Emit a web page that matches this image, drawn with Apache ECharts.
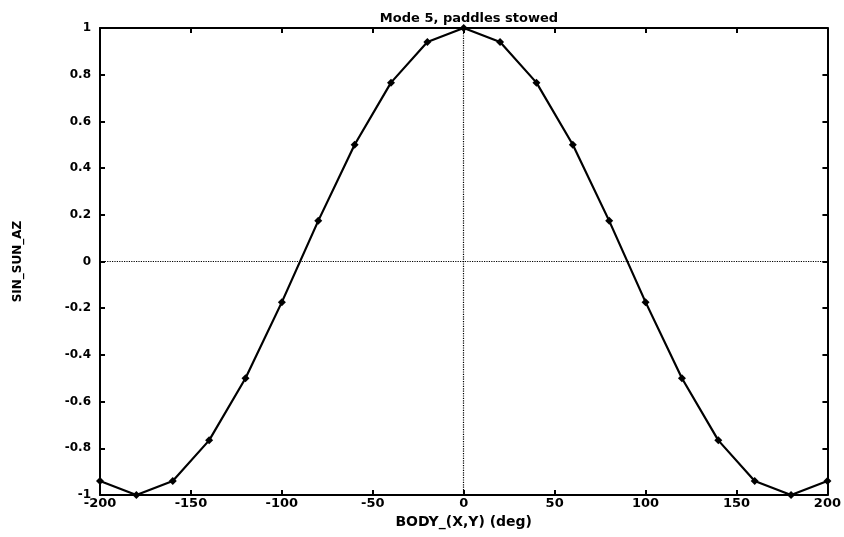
<!DOCTYPE html>
<html><head><meta charset="utf-8">
<script src="https://cdn.jsdelivr.net/npm/echarts@6/dist/echarts.min.js"></script>
<style>html,body{margin:0;padding:0;background:#fff}#c{width:844px;height:537px}</style>
</head><body><div id="c"></div>
<script>
const title = 'Mode 5, paddles stowed';
const xName = 'BODY_(X,Y) (deg)';
const yName = 'SIN_SUN_AZ';
const xDeg = [-200,-180,-160,-140,-120,-100,-80,-60,-40,-20,0,20,40,60,80,100,120,140,160,180,200];
const yVal = [-0.94,-1.0,-0.94,-0.766,-0.5,-0.174,0.174,0.5,0.766,0.94,1.0,0.94,0.766,0.5,0.174,-0.174,-0.5,-0.766,-0.94,-1.0,-0.94];

const font = 'DejaVu Sans, Arial, sans-serif';
const chart = echarts.init(document.getElementById('c'));
const axCommon = {
  axisLine:{show:true,onZero:false,lineStyle:{color:'#000',width:2}},
  axisTick:{show:true,inside:true,length:5,lineStyle:{color:'#000',width:2}},
  splitLine:{show:false}
};
chart.setOption({
  animation:false,
  backgroundColor:'#fff',
  title:{text:title,left:464,top:7,textAlign:'center',
    textStyle:{fontFamily:font,fontSize:13,fontWeight:'bold',color:'#000'}},
  grid:{left:100,right:15,top:28,bottom:42,show:false},
  xAxis:[
    Object.assign({type:'value',min:-200,max:200,interval:50,position:'bottom',
      name:xName,nameLocation:'middle',nameGap:15,
      nameTextStyle:{fontFamily:font,fontSize:14,fontWeight:'bold',color:'#000'},
      axisLabel:{fontFamily:font,fontSize:13,fontWeight:'bold',color:'#000',margin:2}},axCommon),
    Object.assign({type:'value',min:-200,max:200,interval:50,position:'top',
      axisLabel:{show:false}},axCommon)
  ],
  yAxis:[
    Object.assign({type:'value',min:-1,max:1,interval:0.2,position:'left',
      name:yName,nameLocation:'middle',nameGap:76,
      nameTextStyle:{fontFamily:font,fontSize:12,fontWeight:'bold',color:'#000'},
      axisLabel:{fontFamily:font,fontSize:12,fontWeight:'bold',color:'#000',margin:9,
        formatter:v=>String(Math.round(v*10)/10)}},axCommon),
    Object.assign({type:'value',min:-1,max:1,interval:0.2,position:'right',
      axisLabel:{show:false}},axCommon)
  ],
  series:[{
    type:'line',
    data:xDeg.map((x,i)=>[x,yVal[i]]),
    symbol:'diamond',symbolSize:8,showSymbol:true,
    lineStyle:{color:'#000',width:2.2},
    itemStyle:{color:'#000'},
    markLine:{silent:true,symbol:'none',label:{show:false},
      lineStyle:{color:'#000',type:'dotted',width:1.2},
      data:[{xAxis:0},{yAxis:0}]}
  }]
});
</script></body></html>
